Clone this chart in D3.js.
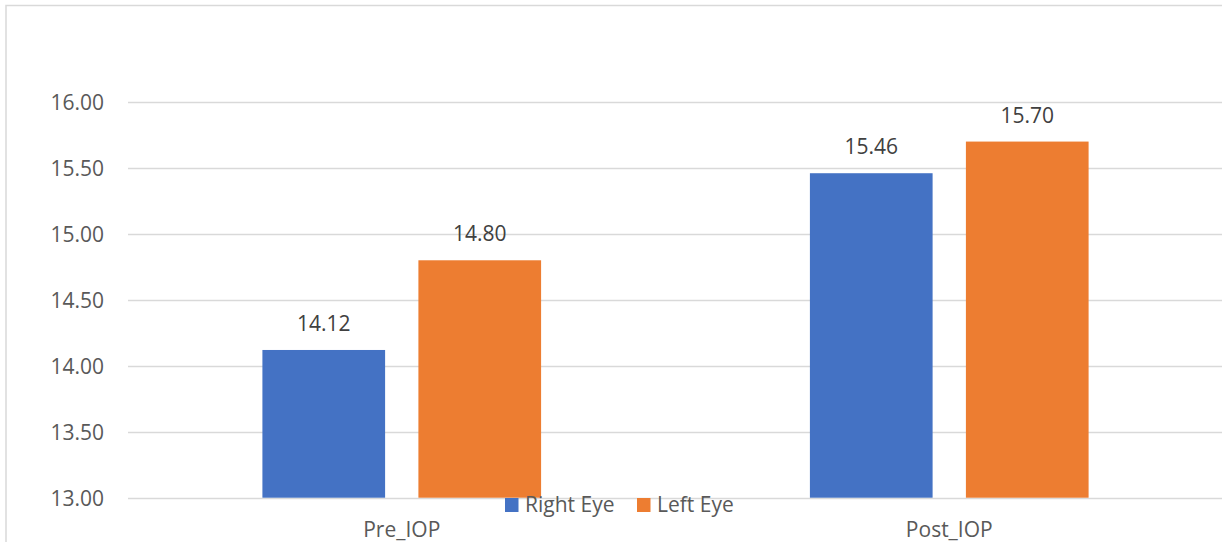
<!DOCTYPE html>
<html>
<head>
<meta charset="utf-8">
<script src="https://cdn.jsdelivr.net/npm/d3@7"></script>
<style>
  html, body { margin: 0; padding: 0; background: #fff; }
  svg { display: block; font-family: "Open Sans", "Noto Sans", sans-serif; }
</style>
</head>
<body>
<svg id="chart" width="1222" height="542"></svg>
<script>
// Mean intraocular pressure before and after, per eye
const categories = ["Pre_IOP", "Post_IOP"];
const seriesNames = ["Right Eye", "Left Eye"];
const rightEye = [14.12, 15.46];
const leftEye = [14.80, 15.70];
const yTicks = [13.00, 13.50, 14.00, 14.50, 15.00, 15.50, 16.00];
const colors = ["#4472C4", "#ED7D31"];

const seriesValues = [rightEye, leftEye];
const rows = categories.map((c, i) => ({
  category: c,
  values: seriesNames.map((s, j) => ({ series: s, index: j, value: seriesValues[j][i] }))
}));

const svg = d3.select("#chart");

// chart frame (left and top edges visible)
svg.append("path")
  .attr("d", "M6,542 V5.5 H1222")
  .attr("fill", "none")
  .attr("stroke", "#d9d9d9")
  .attr("stroke-width", 1.5);

const plotLeft = 128, plotRight = 1223;
const y = d3.scaleLinear().domain([13, 16]).range([497.7, 102]);

const x0 = d3.scaleBand().domain(categories).range([plotLeft, plotRight]).padding(0);
const x1 = d3.scaleBand().domain(seriesNames).range([0, x0.bandwidth()])
  .paddingInner(0.2135).paddingOuter(0.8616);

// gridlines
svg.append("g")
  .selectAll("line")
  .data(yTicks)
  .join("line")
  .attr("x1", plotLeft)
  .attr("x2", 1222)
  .attr("y1", d => Math.round(y(d)) + 0.5)
  .attr("y2", d => Math.round(y(d)) + 0.5)
  .attr("stroke", "#d9d9d9")
  .attr("stroke-width", 1.5);

// y axis labels
const yAxis = d3.axisLeft(y).tickValues(yTicks).tickFormat(d3.format(".2f")).tickSize(0).tickPadding(0);
const gy = svg.append("g").attr("transform", "translate(104,0)").call(yAxis);
gy.select(".domain").remove();
gy.selectAll("text")
  .attr("fill", "#595959")
  .attr("font-size", 21)
  .attr("font-family", "\"Open Sans\", \"Noto Sans\", sans-serif")
  .attr("dy", "0.36em");

// bars
const groups = svg.append("g")
  .selectAll("g")
  .data(rows)
  .join("g")
  .attr("transform", d => `translate(${x0(d.category)},0)`);

groups.selectAll("rect")
  .data(d => d.values)
  .join("rect")
  .attr("x", d => x1(d.series))
  .attr("width", x1.bandwidth())
  .attr("y", d => y(d.value))
  .attr("height", d => y(13) - y(d.value))
  .attr("fill", d => colors[d.index]);

// value labels
groups.selectAll("text")
  .data(d => d.values)
  .join("text")
  .attr("x", d => x1(d.series) + x1.bandwidth() / 2)
  .attr("y", d => y(d.value) - 19)
  .attr("text-anchor", "middle")
  .attr("font-size", 21)
  .attr("fill", "#404040")
  .text(d => d.value.toFixed(2));

// category labels
const xAxis = d3.axisBottom(x0).tickSize(0).tickPadding(0);
const gx = svg.append("g").attr("transform", "translate(0,537)").call(xAxis);
gx.select(".domain").remove();
gx.selectAll("text")
  .attr("fill", "#595959")
  .attr("font-size", 21)
  .attr("font-family", "\"Open Sans\", \"Noto Sans\", sans-serif")
  .attr("dy", 0);

// legend
const legendItems = [
  { name: seriesNames[0], color: colors[0], x: 505 },
  { name: seriesNames[1], color: colors[1], x: 637 }
];
const lg = svg.append("g");
const li = lg.selectAll("g").data(legendItems).join("g")
  .attr("transform", d => `translate(${d.x},498)`);
li.append("rect").attr("width", 13.5).attr("height", 14).attr("fill", d => d.color);
li.append("text")
  .attr("x", 20)
  .attr("y", 14)
  .attr("font-size", 21)
  .attr("fill", "#595959")
  .text(d => d.name);
</script>
</body>
</html>
